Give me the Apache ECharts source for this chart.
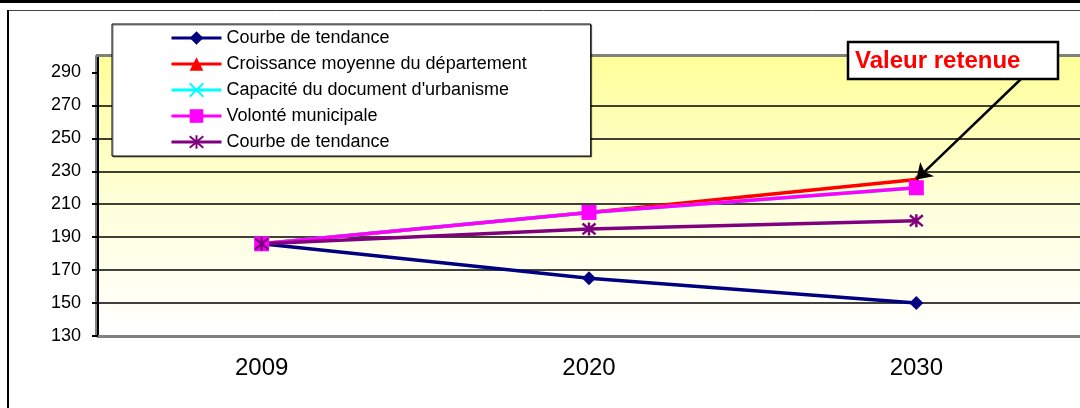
<!DOCTYPE html>
<html>
<head>
<meta charset="utf-8">
<script src="https://cdn.jsdelivr.net/npm/echarts@6/dist/echarts.min.js"></script>
<style>
html,body{margin:0;padding:0;background:#fff;}
#c{width:1080px;height:408px;}
</style>
</head>
<body>
<div id="c"></div>
<script>
const categories = ['2009', '2020', '2030'];
const tendance = [186, 165, 150];
const croissance = [186, 205, 225];
const capacite = [186, 205, 220];
const volonte = [186, 205, 220];
const tendance2 = [186, 195, 200];
const seriesNames = ['Courbe de tendance', 'Croissance moyenne du département', "Capacité du document d'urbanisme", 'Volonté municipale', 'Courbe de tendance '];
const yTicks = [130, 150, 170, 190, 210, 230, 250, 270, 290];
const yMin = 130, yMax = 300, yStep = 20;
const annotationText = 'Valeur retenue';

const FONT = '"Liberation Sans", Arial, sans-serif';
const chart = echarts.init(document.getElementById('c'), null, {renderer: 'canvas'});

const crossPath = 'path://M0,0 L10,10 M10,0 L0,10';
const starPath = 'path://M0,0 L10,10 M10,0 L0,10 M5,-1 L5,11';

function lineSeries(name, data, color, symbol, size, extra) {
  return Object.assign({
    name: name,
    type: 'line',
    data: data,
    symbol: symbol,
    symbolSize: size,
    showAllSymbol: true,
    lineStyle: {color: color, width: 3.5},
    itemStyle: {color: color},
    animation: false,
    z: 3
  }, extra || {});
}

const option = {
  animation: false,
  textStyle: {fontFamily: FONT},
  grid: {
    left: 98, top: 56, width: 984, height: 280,
    show: true, borderWidth: 0,
    backgroundColor: {
      type: 'linear', x: 0, y: 0, x2: 0, y2: 1,
      colorStops: [{offset: 0, color: '#FFFF99'}, {offset: 0.55, color: '#FFFFDD'}, {offset: 1, color: '#FFFFFF'}]
    }
  },
  legend: {
    orient: 'vertical',
    left: 112, top: 24,
    padding: [5, 64, 5, 58],
    itemWidth: 50, itemHeight: 17, itemGap: 8,
    backgroundColor: '#FFFFFF',
    borderColor: '#000000', borderWidth: 1,
    shadowColor: 'rgba(0,0,0,0.5)', shadowOffsetX: 1, shadowOffsetY: 1,
    selectedMode: false,
    formatter: n => n.trim(),
    lineStyle: {width: 3},
    textStyle: {fontSize: 18, lineHeight: 18, color: '#000', fontFamily: FONT},
    data: seriesNames,
    z: 20
  },
  xAxis: {
    type: 'category',
    data: categories,
    boundaryGap: true,
    axisLine: {lineStyle: {color: '#808080', width: 3}},
    axisTick: {show: false},
    axisLabel: {fontSize: 24, color: '#000', margin: 20, fontFamily: FONT},
    splitLine: {show: false}
  },
  yAxis: {
    type: 'value',
    min: yMin, max: yMax, interval: yStep,
    axisLine: {show: true, lineStyle: {color: '#000', width: 2, shadowColor: '#808080', shadowOffsetX: -2}},
    axisTick: {show: true, length: 6, customValues: yTicks, lineStyle: {color: '#000', width: 2}},
    axisLabel: {fontSize: 18, color: '#000', margin: 17, fontFamily: FONT, customValues: yTicks},
    splitLine: {show: true, showMinLine: false, showMaxLine: false, lineStyle: {color: '#000', width: 1.5}}
  },
  series: [
    lineSeries(seriesNames[0], tendance, '#000080', 'diamond', 14),
    lineSeries(seriesNames[1], croissance, '#FF0000', 'triangle', 9, {
      markLine: {
        silent: true,
        symbol: ['none', 'arrow'],
        symbolSize: 15,
        label: {show: false},
        emphasis: {disabled: true},
        lineStyle: {color: '#000', width: 2.5, type: 'solid'},
        data: [[{x: 1021, y: 79}, {coord: [categories[2], croissance[2]]}]]
      },
      zlevel: 0
    }),
    lineSeries(seriesNames[2], capacite, '#00FFFF', crossPath, 11, {itemStyle: {color: '#00FFFF', borderColor: '#00FFFF', borderWidth: 2.5}}),
    lineSeries(seriesNames[3], volonte, '#FF00FF', 'rect', 15),
    lineSeries(seriesNames[4], tendance2, '#800080', starPath, 13, {itemStyle: {color: '#800080', borderColor: '#800080', borderWidth: 2.5}})
  ],
  graphic: [
    {type: 'rect', shape: {x: 0, y: 0, width: 1080, height: 3}, style: {fill: '#000'}, z: 50, silent: true},
    {type: 'line', shape: {x1: 7, y1: 10.5, x2: 1080, y2: 10.5}, style: {stroke: '#444', lineWidth: 1}, z: 50, silent: true},
    {type: 'line', shape: {x1: 8, y1: 10, x2: 8, y2: 408}, style: {stroke: '#000', lineWidth: 2}, z: 50, silent: true},
    {type: 'rect', shape: {x: 96, y: 54, width: 984, height: 3}, style: {fill: '#808080'}, z: 1, silent: true},
    {type: 'rect', shape: {x: 848, y: 42, width: 210, height: 37}, style: {fill: '#FFFFFF', stroke: '#000', lineWidth: 2.5}, z: 60, silent: true},
    {type: 'text', x: 855, y: 61, style: {text: annotationText, fill: '#FF0000', font: 'bold 24px ' + FONT, verticalAlign: 'middle'}, z: 61, silent: true}
  ]
};
chart.setOption(option);
</script>
</body>
</html>
